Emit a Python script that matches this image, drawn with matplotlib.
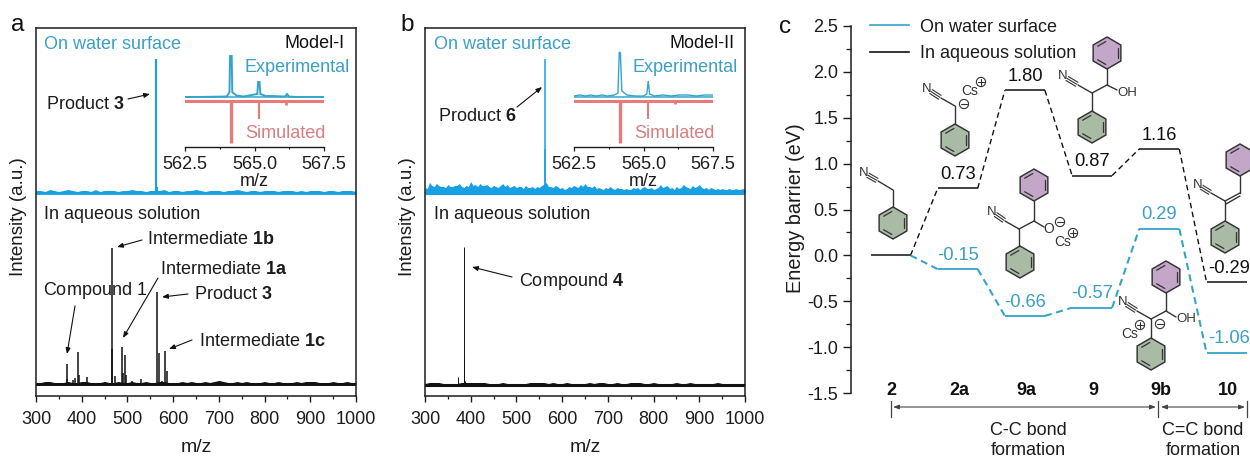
import numpy as np
import matplotlib
matplotlib.use("Agg")
import matplotlib.pyplot as plt
from matplotlib.patches import Polygon, Circle
from matplotlib.lines import Line2D
from matplotlib.ticker import MultipleLocator, FixedLocator

plt.rcParams['font.family'] = ['Liberation Sans', 'DejaVu Sans']
plt.rcParams['mathtext.fontset'] = 'custom'
plt.rcParams['mathtext.rm'] = 'Liberation Sans'
plt.rcParams['mathtext.bf'] = 'Liberation Sans:bold'
plt.rcParams['mathtext.default'] = 'regular'

W, H = 1250, 459
FS = 13
BLUE = '#19a0e2'
TBLUE = '#3b9fc6'
LBLUE = '#35a4c9'
RED = '#e77b7b'
TRED = '#d97f80'
DARK = '#1c1c1c'
GREEN = '#a9baa5'
PURPLE = '#c3a7c8'

# ---------- data: spectra ----------
a_top_noise = [2,2,1,3,2,1,2,3,2,1,2,2,1,3,1,2,2,2,1,2,2,3,2,2,1,2,2,2,3,1,2,2,1,2,2,3,2,1,2,2,2,1,2,2,3,2,1,2,2,1,2,2,2,1,2,2,2,1,2,1,2,2,2,1,2,2,1,2,2,2,1]
a_bot_noise = [2,2,3,3,2,2,2,3,2,2,3,3,2,2,2,3,2,2,3,2,2,3,2,2,3,2,2,3,3,2,2,2,3,2,3,2,2,3,2,3,4,3,2,2,3,2,3,2,2,2,3,2,2,3,2,2,2,3,2,3,3,3,2,2,2,3,2,2,3,2,2]
b_top_noise = [5,4,10,7,6,9,7,6,6,5,8,6,6,7,7,9,6,5,7,6,11,7,8,6,9,7,7,8,6,5,7,6,5,7,9,6,8,5,6,7,
               5,6,6,4,7,5,5,6,4,6,5,7,8,10,6,6,5,7,6,4,5,3,4,6,5,7,6,5,8,6,9,6,6,5,7,4,5,4,3,5,
               4,6,4,3,5,4,4,3,4,3,3,5,4,5,3,5,6,4,4,5,3,4,5,8,5,6,7,4,5,3,6,4,5,8,6,5,4,7,5,6,
               8,5,4,5,3,5,4,3,4,3,4,3,3,4,3,3,4,3,3,4,3]
b_bot_noise = [1,2,2,2,1,1,1,1,2,2,2,2,2,2,1,1,1,2,1,1,1,1,1,2,2,2,2,1,2,1,1,2,1,1,1,1,2,1,2,2,1,1,2,1,1,2,2,2,1,1,2,1,1,1,1,2,1,1,2,1,1,1,1,1,2,1,1,1,1,1,1]

a_top_mz, a_top_h = [562.5, 564.5], [134, 6]
a_bot_mz = [367, 368, 381, 385, 392, 394, 412, 452, 466, 467, 472, 489, 490, 494, 496, 510, 530, 565, 568, 575, 583, 586, 702]
a_bot_h = [21, 6, 5, 7, 33, 10, 8, 3, 137, 36, 9, 38, 12, 30, 10, 4, 6, 93, 32, 4, 34, 14, 4]
b_top_mz, b_top_h = [562.5, 563.5], [134, 44]
b_bot_mz = [372, 385, 386, 388]
b_bot_h = [8, 138, 27, 4]

# inset spectra
ins_a_mz = [562.5, 563.0, 564.0, 564.1, 564.12, 564.18, 564.2, 564.35, 564.6, 565.1, 565.13, 565.18, 565.21, 565.4, 565.6, 566.1, 566.17, 566.24, 566.5, 567.5]
ins_a_h = [0, 0, 0.5, 5, 41, 41, 5, 1.5, 0.5, 3, 15, 15, 3, 1, 1, 0.5, 3, 0.5, 0, 0]
ins_b_mz = [562.5, 562.7, 562.9, 563.1, 563.3, 563.5, 563.7, 563.95, 564.08, 564.13, 564.17, 564.22, 564.4, 564.7, 565.0, 565.12, 565.17, 565.22, 565.4, 565.7, 566.0, 566.3, 566.6, 566.9, 567.2, 567.5]
ins_b_h = [1, 2, 1, 2, 1, 2, 1, 2, 4, 45, 44, 6, 2, 1, 1, 3, 16, 3, 1, 2, 1, 2, 2, 1, 2, 2]
sim_mz = [564.15, 565.15, 566.15]
sim_a_h = [42, 18, 4]
sim_b_h = [42, 18, 3]

# ---------- data: energy profile ----------
stages = ['2', '2a', '9a', '9', '9b', '10']
water = [0.0, -0.15, -0.66, -0.57, 0.29, -1.06]
aqueous = [0.0, 0.73, 1.80, 0.87, 1.16, -0.29]

fig = plt.figure(figsize=(W / 100, H / 100), dpi=100, facecolor='white')

def rect(x0, y0, x1, y1):
    return [x0 / W, 1 - y1 / H, (x1 - x0) / W, (y1 - y0) / H]

def spectrum_panel(x0, top_n, bot_n, tmz, th, bmz, bh, tlw, blw, tbase_lw, bbase_lw):
    ax = fig.add_axes(rect(x0, 28, x0 + 320, 395.5))
    ax.set_xlim(300, 1000)
    ax.set_ylim(0, 367.5)
    base_t, base_b = 203, 11
    ax.fill_between(np.linspace(300, 1000, len(top_n)), base_t, np.array(top_n) + base_t, color=BLUE, lw=0)
    ax.axhline(base_t, color=BLUE, lw=tbase_lw)
    ax.vlines(tmz, base_t, np.array(th) + base_t, color=BLUE, lw=tlw)
    ax.fill_between(np.linspace(300, 1000, len(bot_n)), base_b, np.array(bot_n) + base_b, color='#111111', lw=0)
    ax.axhline(base_b, color='#111111', lw=bbase_lw)
    ax.vlines(bmz, base_b, np.array(bh) + base_b, color='#111111', lw=blw)
    ax.set_yticks([])
    ax.xaxis.set_major_locator(MultipleLocator(100))
    ax.xaxis.set_minor_locator(MultipleLocator(50))
    ax.tick_params(axis='x', which='major', length=4, width=1, labelsize=FS, pad=7, colors=DARK)
    ax.tick_params(axis='x', which='minor', length=2.5, width=0.9, colors=DARK)
    for s in ax.spines.values():
        s.set_linewidth(1.1)
        s.set_color(DARK)
    ax.set_xlabel('m/z', fontsize=14, color=DARK)
    ax.xaxis.set_label_coords(0.5, -0.118)
    ax.set_ylabel('Intensity (a.u.)', fontsize=13.5, color=DARK)
    ax.yaxis.set_label_coords(-0.028, 0.488)
    return ax

def inset(x0, mz, h, sim_h, exp_lw):
    ax = fig.add_axes(rect(x0, 50, x0 + 139, 147))
    ax.patch.set_alpha(0)
    ax.set_xlim(562.5, 567.5)
    ax.set_ylim(0, 97)
    base, sbase = 50, 46
    ax.plot(mz, np.array(h) + base, color=LBLUE, lw=exp_lw, solid_joinstyle='miter')
    ax.axhline(base, color=LBLUE, lw=1.1)
    ax.axhline(sbase, color=RED, lw=2.2)
    ax.vlines(sim_mz, sbase - np.array(sim_h), sbase, color=RED, lw=[2.4, 1.5, 2.0])
    ax.set_yticks([])
    for k in ('left', 'right', 'top'):
        ax.spines[k].set_visible(False)
    ax.spines['bottom'].set_linewidth(1.0)
    ax.spines['bottom'].set_color(DARK)
    ax.set_xticks([562.5, 565.0, 567.5])
    ax.xaxis.set_minor_locator(FixedLocator([563.75, 566.25]))
    ax.tick_params(axis='x', which='major', length=3, width=0.9, labelsize=FS, pad=3.5, colors=DARK)
    ax.tick_params(axis='x', which='minor', length=1.5, width=0.8, colors=DARK)
    ax.set_xlabel('m/z', fontsize=FS, labelpad=0, color=DARK)
    return ax

spectrum_panel(36, a_top_noise, a_bot_noise, a_top_mz, a_top_h, a_bot_mz, a_bot_h, 1.5, 1.1, 2.0, 1.4)
spectrum_panel(425, b_top_noise, b_bot_noise, b_top_mz, b_top_h, b_bot_mz, b_bot_h, 1.1, 0.7, 2.2, 2.2)
inset(185, ins_a_mz, ins_a_h, sim_a_h, 1.4)
inset(574, ins_b_mz, ins_b_h, sim_b_h, 1.0)

# ---------- energy panel ----------
X0, DX, HW = 890.5, 67.2, 20.0 / 67.2
axc = fig.add_axes(rect(851, 26, 1250, 393))
axc.patch.set_alpha(0)
axc.set_xlim((851 - X0) / DX, (1250 - X0) / DX)
axc.set_ylim(-1.5, 2.5)

for i in range(len(aqueous)):
    axc.plot([i - HW, i + HW], [aqueous[i], aqueous[i]], color='#111111', lw=1.1, solid_capstyle='butt', clip_on=False, zorder=3)
    if i < len(aqueous) - 1:
        axc.plot([i + HW, i + 1 - HW], [aqueous[i], aqueous[i + 1]], color='#111111', lw=1.0, ls=(0, (4, 2.6)), clip_on=False, zorder=2)
for i in range(len(water)):
    if i > 0:
        axc.plot([i - HW, i + HW], [water[i], water[i]], color=LBLUE, lw=1.3, solid_capstyle='butt', zorder=4)
    if i < len(water) - 1:
        axc.plot([i + HW, i + 1 - HW], [water[i], water[i + 1]], color=LBLUE, lw=1.5, ls=(0, (3.4, 2.2)), zorder=4)

for vals, col in ((aqueous, '#111111'), (water, TBLUE)):
    for i, v in enumerate(vals):
        if i > 0:
            dx = 2.0 if i == 5 else 0
            axc.annotate(f'{v:.2f}', (i, v), xytext=(dx, 10), textcoords='offset points', ha='center', va='center',
                         fontsize=13.2, color=col, annotation_clip=False)

for i, s in enumerate(stages):
    axc.text(i + 0.02, -1.47, s, ha='center', va='center', fontsize=FS, fontweight='bold', color='#111111')

axc.yaxis.set_major_locator(MultipleLocator(0.5))
axc.yaxis.set_minor_locator(MultipleLocator(0.25))
axc.yaxis.set_major_formatter(plt.FuncFormatter(lambda v, p: f'{v:.1f}'))
axc.tick_params(axis='y', which='major', length=6, width=1, labelsize=FS, pad=3, colors=DARK)
axc.tick_params(axis='y', which='minor', length=3.5, width=0.9, colors=DARK)
axc.set_xticks([])
for k in ('top', 'right', 'bottom'):
    axc.spines[k].set_visible(False)
axc.spines['left'].set_linewidth(1.1)
axc.spines['left'].set_color(DARK)
axc.set_ylabel('Energy barrier (eV)', fontsize=14.3, color=DARK)
axc.yaxis.set_label_coords(-0.115, 0.505)

axc.legend(handles=[Line2D([], [], color=LBLUE, lw=1.2), Line2D([], [], color='#111111', lw=1.2)],
           labels=['On water surface', 'In aqueous solution'], frameon=False, fontsize=FS,
           loc='upper left', bbox_to_anchor=(18.5 / 399, 1.02), borderaxespad=0, borderpad=0,
           handlelength=2.2, handletextpad=0.6, labelspacing=0.53, labelcolor=DARK)

# ---------- overlay in pixel coordinates for annotations and structures ----------
ov = fig.add_axes([0, 0, 1, 1], zorder=10)
ov.set_xlim(0, W)
ov.set_ylim(H, 0)
ov.axis('off')

def T(x, y, s, color=DARK, ha='left', fs=FS, **kw):
    ov.text(x, y + 1.2, s, color=color, ha=ha, va='center', fontsize=fs, **kw)

def A(x0, y0, x1, y1, lw=0.8):
    ov.annotate('', xy=(x1, y1), xytext=(x0, y0),
                arrowprops=dict(arrowstyle='-|>,head_length=0.35,head_width=0.14', color='#111111', lw=lw, shrinkA=0, shrinkB=0))

for s, x, y in [('a', 11, 24), ('b', 400, 24), ('c', 779, 26)]:
    T(x, y, s, color='#111111', fs=17.5)

T(43.5, 43, 'On water surface', color=TBLUE)
T(345, 42.5, 'Model-I', color='#111111', ha='right')
T(43.5, 213, 'In aqueous solution')
T(245, 66, 'Experimental', color=TBLUE)
T(245, 132, 'Simulated', color=TRED)
T(46, 103, r'Product $\mathbf{3}$')
A(128, 99, 150, 94)
T(147, 238, r'Intermediate $\mathbf{1b}$')
A(142, 240, 117, 247)
T(160, 268, r'Intermediate $\mathbf{1a}$')
A(158, 278, 123, 338)
T(43, 289, r'Compound $1$')
A(75, 306, 67, 354)
T(194, 293, r'Product $\mathbf{3}$')
A(188, 294, 162, 297)
T(199, 340, r'Intermediate $\mathbf{1c}$')
A(192, 340, 169, 349)

T(434, 43, 'On water surface', color=TBLUE)
T(735, 42.5, 'Model-II', color='#111111', ha='right')
T(433.5, 213, 'In aqueous solution')
T(633, 66, 'Experimental', color=TBLUE)
T(634, 132, 'Simulated', color=TRED)
T(438, 115, r'Product $\mathbf{6}$')
A(517, 107, 542, 87)
T(519, 280, r'Compound $\mathbf{4}$')
A(512, 277, 472, 267)

# process arrows
GR = '#444444'
for x in (891, 1158, 1247):
    ov.plot([x, x], [401, 417], color=GR, lw=0.9)
for a, b in ((893, 1156), (1161, 1245)):
    ov.annotate('', xy=(a, 407), xytext=(b, 407),
                arrowprops=dict(arrowstyle='<|-|>,head_length=0.35,head_width=0.13', color=GR, lw=0.8, shrinkA=0, shrinkB=0))
T(1028, 429, 'C-C bond', ha='center', fs=13)
T(1028, 449, 'formation', ha='center', fs=13)
T(1203, 429, 'C=C bond', ha='center', fs=13)
T(1203, 449, 'formation', ha='center', fs=13)

# molecular structures
LC = '#333333'
def L(x0, y0, x1, y1, lw=1.0):
    ov.plot([x0, x1], [y0, y1], color=LC, lw=lw, solid_capstyle='round', clip_on=False)

def ring(cx, cy, col, r=16):
    ang = np.deg2rad(np.arange(6) * 60 - 90)
    pts = np.c_[cx + r * np.cos(ang), cy + r * np.sin(ang)]
    ov.add_patch(Polygon(pts, closed=True, fc=col, ec=LC, lw=1.05))
    ri = r * 0.76
    p2 = np.c_[cx + ri * np.cos(ang), cy + ri * np.sin(ang)]
    for k in (1, 3, 5):
        a, b = p2[k], p2[(k + 1) % 6]
        m = (a + b) / 2
        a2, b2 = m + (a - m) * 0.78, m + (b - m) * 0.78
        L(a2[0], a2[1], b2[0], b2[1], 0.9)

def nitrile(cx, cy, nx, ny):
    v = np.array([nx - cx, ny - cy], float)
    n = np.array([-v[1], v[0]]) / np.hypot(*v)
    a = np.array([cx, cy]) + v * 0.08
    b = np.array([cx, cy]) + v * 0.72
    for off in (-2.3, 0, 2.3):
        L(a[0] + n[0] * off, a[1] + n[1] * off, b[0] + n[0] * off, b[1] + n[1] * off, 0.8)
    ov.text(nx, ny, 'N', color=LC, ha='center', va='center', fontsize=9.5)

def charge(x, y, sign):
    ov.add_patch(Circle((x, y), 4.6, fc='none', ec=LC, lw=0.8))
    L(x - 2.8, y, x + 2.8, y, 0.8)
    if sign > 0:
        L(x, y - 2.8, x, y + 2.8, 0.8)

# 2
ring(893, 223, GREEN)
L(893, 207, 893, 190); L(893, 190, 878, 181)
nitrile(878, 181, 864, 173)
# 2a
ring(955, 140, GREEN)
L(955, 124, 955, 106); L(955, 106, 941, 98)
nitrile(941, 98, 927, 89)
charge(964, 104, -1)
T(970, 90, 'Cs', color=LC, ha='center', fs=10)
charge(981, 82, 1)
# 9
ring(1092, 127, GREEN)
ring(1107, 53, PURPLE)
L(1092, 111, 1092, 93); L(1092, 93, 1107, 85); L(1107, 85, 1107, 69); L(1107, 85, 1117, 90)
L(1092, 93, 1078, 85)
nitrile(1078, 85, 1063, 76)
T(1127, 92, 'OH', color=LC, ha='center', fs=9.5)
# 9a
ring(1034, 185, PURPLE)
ring(1020, 262, GREEN)
L(1034, 201, 1034, 221); L(1034, 221, 1019, 229); L(1019, 229, 1019, 246)
L(1034, 221, 1044, 227)
L(1019, 229, 1005, 221)
nitrile(1005, 221, 992, 212)
T(1049, 228, 'O', color=LC, ha='center', fs=10)
charge(1060, 222, -1)
T(1063, 241, 'Cs', color=LC, ha='center', fs=10)
charge(1073, 233, 1)
# 9b
ring(1166, 277, PURPLE)
ring(1151, 354, GREEN)
L(1166, 293, 1166, 311); L(1166, 311, 1151, 319); L(1151, 319, 1151, 338)
L(1166, 311, 1176, 317)
L(1151, 319, 1137, 311)
nitrile(1137, 311, 1123, 302)
T(1186, 318, 'OH', color=LC, ha='center', fs=9.5)
charge(1160, 324, -1)
T(1130, 333, 'Cs', color=LC, ha='center', fs=10)
charge(1140, 325, 1)
# 10
ring(1240, 160, PURPLE)
ring(1225, 237, GREEN)
L(1225, 221, 1225, 201); L(1225, 201, 1240, 193); L(1226, 204, 1240, 196); L(1240, 193, 1240, 176)
L(1225, 201, 1211, 193)
nitrile(1211, 193, 1198, 185)

fig.savefig('out.png', dpi=100)
